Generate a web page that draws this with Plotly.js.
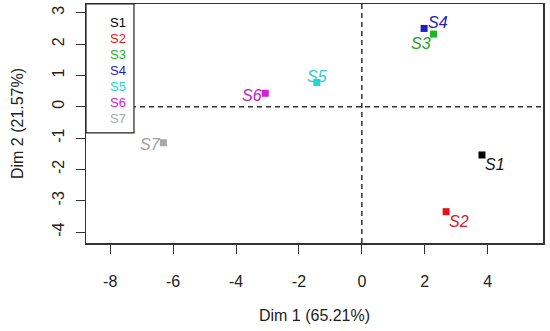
<!DOCTYPE html>
<html>
<head>
<meta charset="utf-8">
<script src="https://cdn.plot.ly/plotly-3.0.1.min.js"></script>
<style>html,body{margin:0;padding:0;background:#fff}#chart{width:550px;height:331px}</style>
</head>
<body>
<div id="chart"></div>
<script>
// Data
var names = ["S1","S2","S3","S4","S5","S6","S7"];
var dim1 = [3.82, 2.68, 2.28, 1.98, -1.43, -3.07, -6.31];
var dim2 = [-1.54, -3.35, 2.32, 2.50, 0.77, 0.43, -1.15];
var xTicks = [-8, -6, -4, -2, 0, 2, 4];
var yTicks = [-4, -3, -2, -1, 0, 1, 2, 3];

// Styles
var colors = ["#000000", "#E8121A", "#1FB51F", "#1C1CC8", "#22D8D8", "#D81CD8", "#A8A8A8"];
var labelColors = ["#111111", "#C82028", "#22A022", "#2020B0", "#30CCCC", "#C020C0", "#A0A0A0"];
var labelDx = [13, 13, -13, 13.5, 0, -13, -13];
var labelDy = [-10, -10, -9, 6, 6, -2, -2];

var font = "Liberation Sans, Arial, sans-serif";

var trace = {
  x: dim1, y: dim2, mode: "markers", type: "scatter",
  marker: {symbol: "square", size: 7, color: colors, line: {width: 0}},
  hoverinfo: "text", text: names, showlegend: false
};

var annotations = [];
for (var i = 0; i < names.length; i++) {
  annotations.push({
    x: dim1[i], y: dim2[i], xref: "x", yref: "y", text: names[i],
    showarrow: false, xanchor: "center", yanchor: "middle",
    xshift: labelDx[i], yshift: labelDy[i],
    font: {family: font, size: 16, color: labelColors[i], style: "italic"}
  });
}
// legend entries
var legTop = 0.9218, legStep = 0.067;
for (var j = 0; j < names.length; j++) {
  annotations.push({
    x: 0.070, y: legTop - j * legStep, xref: "paper", yref: "paper",
    text: names[j], showarrow: false, xanchor: "center", yanchor: "middle",
    font: {family: font, size: 13, color: colors[j]}
  });
}

var layout = {
  width: 550, height: 331,
  margin: {l: 86, r: 7, t: 4, b: 88},
  paper_bgcolor: "#fff", plot_bgcolor: "#fff",
  font: {family: font, size: 16, color: "#222"},
  xaxis: {
    range: [-8.77, 5.76], tickvals: xTicks, ticktext: xTicks.map(String),
    showgrid: false, zeroline: false, showline: true, mirror: true,
    linecolor: "#333", linewidth: 1.5, ticks: "outside", ticklen: 9, tickcolor: "#333", tickwidth: 1,
    ticklabelstandoff: 14, tickfont: {family: font, size: 16, color: "#222"},
    title: {text: "Dim 1 (65.21%)", font: {family: font, size: 16, color: "#222"}, standoff: 21},
    automargin: false
  },
  yaxis: {
    range: [-4.35, 3.28], tickvals: yTicks, ticktext: yTicks.map(String),
    showgrid: false, zeroline: false, showline: true, mirror: true,
    linecolor: "#333", linewidth: 1.5, ticks: "outside", ticklen: 9, tickcolor: "#333", tickwidth: 1,
    tickangle: -90, ticklabelstandoff: 5, tickfont: {family: font, size: 16, color: "#222"},
    title: {text: "Dim 2 (21.57%)", font: {family: font, size: 16, color: "#222"}, standoff: 22},
    automargin: false
  },
  shapes: [
    {type: "line", xref: "x", yref: "paper", x0: 0, x1: 0, y0: 0, y1: 1, layer: "below",
     line: {color: "#333", width: 1.5, dash: "5px,4px"}},
    {type: "line", xref: "paper", yref: "y", x0: 0, x1: 1, y0: 0, y1: 0, layer: "below",
     line: {color: "#333", width: 1.5, dash: "5px,4px"}},
    {type: "rect", xref: "paper", yref: "paper", x0: 0, x1: 0.105, y0: 0.461, y1: 1, layer: "above",
     fillcolor: "#fff", line: {color: "#222", width: 1.2}}
  ],
  annotations: annotations
};

Plotly.newPlot("chart", [trace], layout, {displayModeBar: false, staticPlot: true});
</script>
</body>
</html>
